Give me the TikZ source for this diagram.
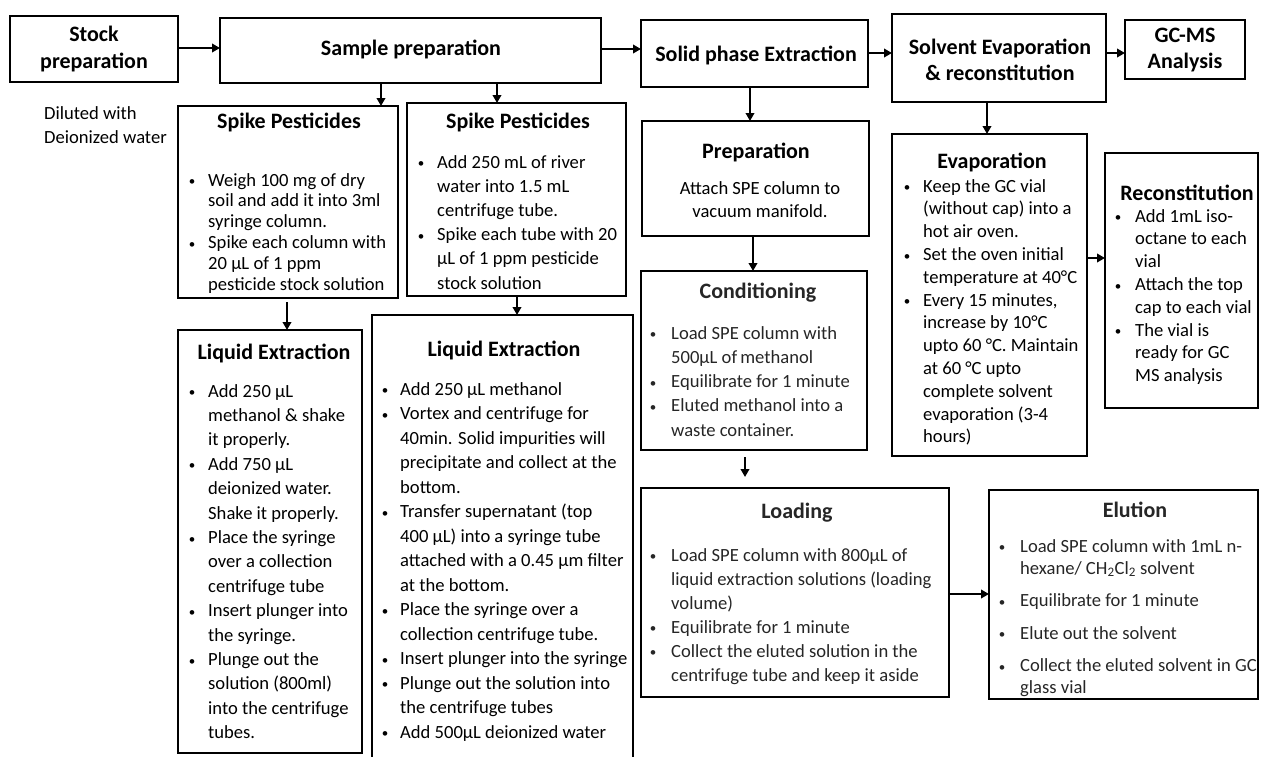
\documentclass[tikz,border=0pt]{standalone}
\usepackage{fontspec}
\setmainfont{Carlito}
\usetikzlibrary{arrows.meta}
\definecolor{dgray}{HTML}{262626}
\newcommand\sbul{\raisebox{0.3pt}{\fontsize{13}{13}\selectfont\textbullet}}
\newcommand\B[1][16pt]{\makebox[#1][l]{\makebox[0pt]{\sbul}}}
\newcommand\bx[5]{\node[box, minimum width={#4-#2}, minimum height={#5-#3}] (#1) at (#2,#3) {};}
\tikzset{
  box/.style={draw, line width=2.3pt, inner sep=0pt, outer sep=0pt, anchor=north west},
  head/.style={font=\fontsize{22}{26.5}\selectfont\bfseries, inner sep=0pt, align=center},
  body/.style={inner sep=0pt, anchor=base west, font=\fontsize{18.6}{#1}\selectfont},
  body/.default=24,
  arr/.style={line width=2.2pt, -{Triangle[length=8pt,width=8.5pt]}},
}
\begin{document}
\begin{tikzpicture}[x=1pt,y=-1pt]
\path[use as bounding box] (0,0) rectangle (1261,756);
\clip (0,0) rectangle (1261,756);
% boxes
\bx{stock}{10}{16}{178}{82}
\bx{sample}{220}{18}{601}{83}
\bx{spe}{641}{20}{868}{87}
\bx{solv}{892}{14}{1106}{102}
\bx{gcms}{1125}{20}{1245}{79}
\bx{spk1}{178}{106}{398}{298}
\bx{spk2}{407}{103}{626}{296}
\bx{liq1}{178}{330}{362}{753}
\bx{liq2}{372}{315}{633}{790}
\bx{prep}{642}{121}{869}{236}
\bx{cond}{641}{271}{867}{450}
\bx{evap}{892}{134}{1087}{456}
\bx{recon}{1105}{153}{1258}{408}
\bx{load}{641}{488}{949}{697}
\bx{elut}{989}{490}{1258}{699}
% titles
\node[head] (stock-t) at (94,49) {Stock\\preparation};
\node[head] (sample-t) at (411,49) {Sample preparation};
\node[head] (spe-t) at (756,55) {Solid phase Extraction};
\node[head] (solv-t) at (1000,60) {Solvent Evaporation\\\& reconstitution};
\node[head] (gcms-t) at (1185,50) {GC-MS\\Analysis};
\node[body=24, anchor=base west] (dil) at (44,119) {\begin{tabular}[t]{@{}l@{}}Diluted with\\Deionized water\end{tabular}};
% sub headings
\node[head] (spk1-h) at (289,122) {Spike Pesticides};
\node[head] (spk2-h) at (518,122) {Spike Pesticides};
\node[head] (liq1-h) at (274,353) {Liquid Extraction};
\node[head] (liq2-h) at (504,350) {Liquid Extraction};
\node[head] (prep-h) at (756,152) {Preparation};
\node[head, text=dgray] (cond-h) at (758,293) {Conditioning};
\node[head] (evap-h) at (992,162) {Evaporation};
\node[head] (recon-h) at (1187,193) {Reconstitution};
\node[head, text=dgray] (load-h) at (797,513) {Loading};
\node[head, text=dgray] (elut-h) at (1135,510) {Elution};
% bodies
\node[body=20.8] (spk1-b) at (192,186) {\begin{tabular}[t]{@{}l@{}l@{}}
\B & Weigh 100 mg of dry\\
 & soil and add it into 3ml\\
 & syringe column.\\
\B & Spike each column with\\
 & 20 µL of 1 ppm\\
 & pesticide stock solution
\end{tabular}};
\node[body=24.2] (spk2-b) at (421,168) {\begin{tabular}[t]{@{}l@{}l@{}}
\B & Add 250 mL of river\\
 & water into 1.5 mL\\
 & centrifuge tube.\\
\B & Spike each tube with 20\\
 & µL of 1 ppm pesticide\\
 & stock solution
\end{tabular}};
\node[body=24.4] (liq1-b) at (192,397) {\begin{tabular}[t]{@{}l@{}l@{}}
\B & Add 250 µL\\
 & methanol \& shake\\
 & it properly.\\
\B & Add 750 µL\\
 & deionized water.\\
 & Shake it properly.\\
\B & Place the syringe\\
 & over a collection\\
 & centrifuge tube\\
\B & Insert plunger into\\
 & the syringe.\\
\B & Plunge out the\\
 & solution (800ml)\\
 & into the centrifuge\\
 & tubes.
\end{tabular}};
\node[body=24.5] (liq2-b) at (385,395) {\begin{tabular}[t]{@{}l@{}l@{}}
\B[15pt] & Add 250 µL methanol\\
\B[15pt] & Vortex and centrifuge for\\
 & 40min. Solid impurities will\\
 & precipitate and collect at the\\
 & bottom.\\
\B[15pt] & Transfer supernatant (top\\
 & 400 µL) into a syringe tube\\
 & attached with a 0.45 µm filter\\
 & at the bottom.\\
\B[15pt] & Place the syringe over a\\
 & collection centrifuge tube.\\
\B[15pt] & Insert plunger into the syringe\\
\B[15pt] & Plunge out the solution into\\
 & the centrifuge tubes\\
\B[15pt] & Add 500µL deionized water
\end{tabular}};
\node[body=23, anchor=base] (prep-b) at (760,194) {\begin{tabular}[t]{@{}c@{}}Attach SPE column to\\vacuum manifold.\end{tabular}};
\node[body=24.3, text=dgray] (cond-b) at (653,339) {\begin{tabular}[t]{@{}l@{}l@{}}
\B[18pt] & Load SPE column with\\
 & 500µL of\,methanol\\
\B[18pt] & Equilibrate for 1 minute\\
\B[18pt] & Eluted methanol into a\\
 & waste container.
\end{tabular}};
\node[body=22.8] (evap-b) at (907,192) {\begin{tabular}[t]{@{}l@{}l@{}}
\B & Keep the GC vial\\
 & (without cap) into a\\
 & hot air oven.\\
\B & Set the oven initial\\
 & temperature at 40°C\\
\B & Every 15 minutes,\\
 & increase by 10°C\\
 & upto 60 °C. Maintain\\
 & at 60 °C upto\\
 & complete solvent\\
 & evaporation (3-4\\
 & hours)
\end{tabular}};
\node[body=22.8] (recon-b) at (1118,222) {\begin{tabular}[t]{@{}l@{}l@{}}
\B[17pt] & Add 1mL iso-\\
 & octane to each\\
 & vial\\
\B[17pt] & Attach the top\\
 & cap to each vial\\
\B[17pt] & The vial is\\
 & ready for GC\\
 & MS analysis
\end{tabular}};
\node[body=24, text=dgray] (load-b) at (653,561) {\begin{tabular}[t]{@{}l@{}l@{}}
\B[18pt] & Load SPE column with 800µL of\\
 & liquid extraction solutions (loading\\
 & volume)\\
\B[18pt] & Equilibrate for 1 minute\\
\B[18pt] & Collect the eluted solution in the\\
 & centrifuge tube and keep it aside
\end{tabular}};
\node[body=22, text=dgray] (elut-b) at (1002,552) {\begin{tabular}[t]{@{}l@{}l@{}}
\B[18pt] & Load SPE column with 1mL n-\\
 & hexane/ CH\textsubscript{2}Cl\textsubscript{2} solvent\\[10.5pt]
\B[18pt] & Equilibrate for 1 minute\\[10.5pt]
\B[18pt] & Elute out the solvent\\[10.5pt]
\B[18pt] & Collect the eluted solvent in GC\\
 & glass vial
\end{tabular}};
% connectors
\draw[arr] (stock.east |- 0,48) -- (sample.west |- 0,48);
\draw[arr] (sample.east |- 0,49) -- (spe.west |- 0,49);
\draw[arr] (spe.east |- 0,53) -- (solv.west |- 0,53);
\draw[arr] (solv.east |- 0,53) -- (gcms.west |- 0,53);
\draw[arr] (sample.south -| 381,0) -- (spk1.north -| 381,0);
\draw[arr] (sample.south -| 497,0) -- (spk2.north -| 497,0);
\draw[arr, shorten <=4pt] (spk1.south -| 287,0) -- (liq1.north -| 287,0);
\draw[arr] (spk2.south -| 517,0) -- (liq2.north -| 517,0);
\draw[arr] (spe.south -| 750,0) -- (prep.north -| 750,0);
\draw[arr] (prep.south -| 753,0) -- (cond.north -| 753,0);
\draw[arr, shorten <=7pt, shorten >=11pt] (cond.south -| 745,0) -- (load.north -| 745,0);
\draw[arr] (load.east |- 0,594) -- (elut.west |- 0,594);
\draw[arr] (solv.south -| 987,0) -- (evap.north -| 987,0);
\draw[arr] (evap.east |- 0,258) -- (recon.west |- 0,258);
\end{tikzpicture}
\end{document}
